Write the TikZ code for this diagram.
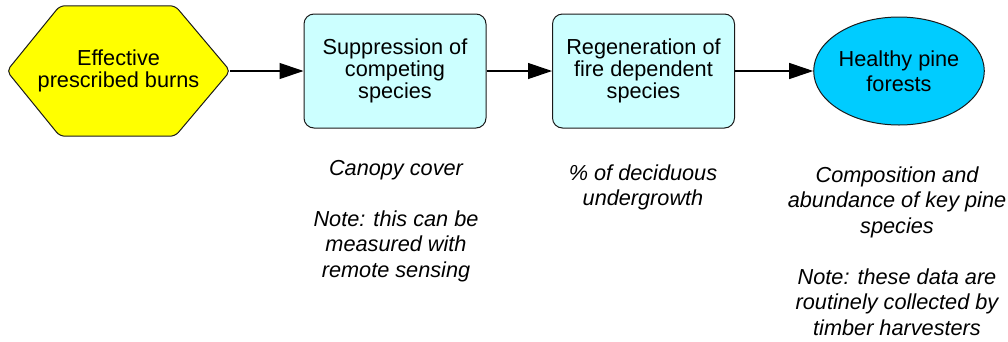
\documentclass[tikz,border=0pt]{standalone}
\usepackage{fontspec}
\setmainfont{Liberation Sans}
\usetikzlibrary{arrows.meta,shapes.geometric,backgrounds}
\definecolor{hexyellow}{HTML}{FFFF00}
\definecolor{boxcyan}{HTML}{CCFFFF}
\definecolor{ellblue}{HTML}{00CCFF}
\definecolor{edgegray}{HTML}{1A1A1A}
\tikzset{
  maintext/.style={font=\fontsize{21.7}{21.7}\selectfont, align=center, text=black},
  procbox/.style={maintext, draw=edgegray, line width=1pt, fill=boxcyan, rounded corners=10pt,
    minimum width=182pt, minimum height=114pt, inner sep=0pt},
  goalell/.style={maintext, font=\fontsize{21.7}{25}\selectfont, ellipse, draw=edgegray, line width=1pt, fill=ellblue,
    minimum width=162pt, minimum height=108pt, inner sep=0pt},
  hexnode/.style={maintext, minimum width=223pt, minimum height=130pt, inner sep=0pt},
  link/.style={line width=1.2pt, -{Triangle[length=24pt,width=16pt]}},
  note/.style={font=\fontsize{21.7}{25.5}\selectfont\itshape, align=center, anchor=north, inner sep=0pt}
}
\begin{document}
\begin{tikzpicture}[x=1pt,y=-1pt]
\useasboundingbox (0,0) rectangle (1008,341);
\node[hexnode] (hex) at (118.5,71) {Effective\\prescribed burns};
\begin{scope}[on background layer]
  \draw[draw=edgegray, line width=1pt, fill=hexyellow, rounded corners=5pt]
    (hex.west) -- ([xshift=53pt]hex.north west) -- ([xshift=-55pt]hex.north east)
    -- (hex.east) -- ([xshift=-55pt]hex.south east) -- ([xshift=53pt]hex.south west) -- cycle;
\end{scope}
\node[procbox] (b1) at (395,71) {Suppression of\\competing\\species};
\node[procbox] (b2) at (643.5,71) {Regeneration of\\fire dependent\\species};
\node[goalell] (goal) at (899,71) {Healthy pine\\forests};
\draw[link] (hex.east) -- (b1.west);
\draw[link] (b1.east) -- (b2.west);
\draw[link] (b2.east) -- (goal.west);
\node[note] (n1) at (396,157) {\strut Canopy cover\\[25.5pt]Note: this can be\\measured with\\remote sensing};
\node[note] (n2) at (643,162) {\strut\% of deciduous\\undergrowth};
\node[note] (n3) at (897,164) {\strut Composition and\\abundance of key pine\\species\\[25.5pt]Note: these data are\\routinely collected by\\timber harvesters};
\end{tikzpicture}
\end{document}
